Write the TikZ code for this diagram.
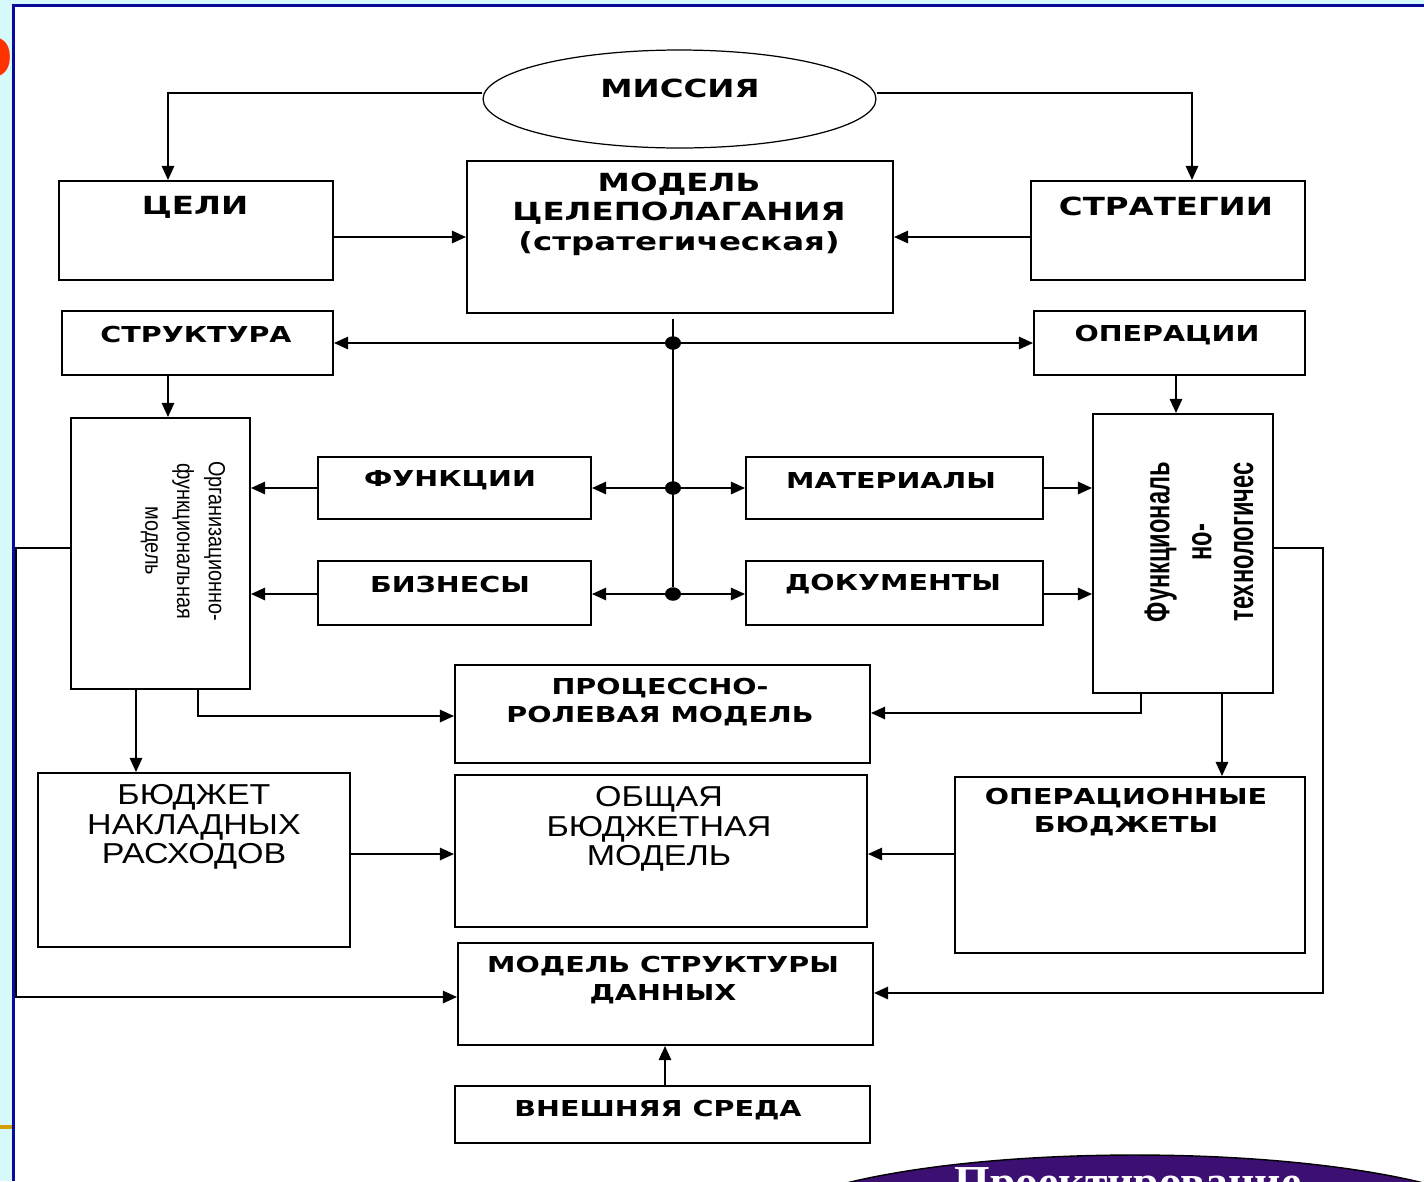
\documentclass[tikz,border=0pt]{standalone}
\usepackage{fontspec}
\usetikzlibrary{arrows.meta,shapes.geometric}
\newfontfamily\fBold{DejaVu Sans}[FakeStretch=1.3]
\newfontfamily\fReg{Liberation Sans}[FakeStretch=1.18]
\newfontfamily\fVa{Liberation Sans}[FakeStretch=0.85]
\newfontfamily\fVb{Liberation Sans}[FakeStretch=0.66]
\newfontfamily\fSerif{Liberation Serif}
\definecolor{cyanbg}{HTML}{D6F9FB}
\definecolor{bordblue}{HTML}{0A0A9C}
\definecolor{orangeln}{HTML}{D4A000}
\definecolor{redglyph}{HTML}{FF3300}
\definecolor{purpl}{HTML}{3C0F72}
\newcommand\mkbox[5]{\node[boxst, minimum width={(#4-#2)*0.02cm}, minimum height={(#5-#3)*0.02cm}] (#1) at ({(#2+#4)/2},{(#3+#5)/2}) {};}
\tikzset{
  boxst/.style={draw, line width=1.1pt, inner sep=0pt},
  lnk/.style={line width=1.1pt},
  arr/.style={line width=1.1pt, -{Triangle[length=8pt,width=7pt]}},
  arrb/.style={line width=1.1pt, {Triangle[length=8pt,width=7pt]}-{Triangle[length=8pt,width=7pt]}},
  dotst/.style={ellipse, fill, inner sep=0pt, minimum width=0.32cm, minimum height=0.27cm},
  bigt/.style={font=\fBold\bfseries\fontsize{14.2}{16.7}\selectfont, align=center, inner sep=0pt},
  smt/.style={font=\fBold\bfseries\fontsize{12.5}{15.6}\selectfont, align=center, inner sep=0pt},
  regt/.style={font=\fReg\fontsize{16.4}{16.7}\selectfont, align=center, inner sep=0pt},
  vta/.style={font=\fVa\fontsize{13.3}{18.1}\selectfont, align=center, inner sep=0pt, rotate=-90},
  vtb/.style={font=\fVb\bfseries\fontsize{20.4}{23.8}\selectfont, align=center, inner sep=0pt, rotate=90},
}
\begin{document}
\begin{tikzpicture}[x=0.02cm,y=-0.02cm]
\useasboundingbox (0,0) rectangle (1424,1181);
\clip (0,0) rectangle (1424,1181);
% slide background
\fill[white] (0,0) rectangle (1424,1181);
\fill[cyanbg] (0,0) rectangle (13,1181);
\fill[cyanbg] (0,0) rectangle (1424,4);
\begin{scope}
  \clip (0,0) rectangle (12,1181);
  \node[text=redglyph, font=\fSerif\bfseries\fontsize{35}{36}\selectfont, anchor=east, inner sep=0pt] (redo) at (14,57) {О};
\end{scope}
\fill[orangeln] (0,1125) rectangle (12,1129);
\draw[bordblue, line width=1.4pt] (13.5,1181) -- (13.5,5.5) -- (1424,5.5);
% purple title ellipse
\node[ellipse, draw=black, line width=0.8pt, fill=purpl, minimum width=15.2cm, minimum height=3.2cm, inner sep=0pt] (proj) at (1135,1235) {};
\node[text=white, font=\fSerif\bfseries\fontsize{26}{28}\selectfont, anchor=base, inner sep=0pt] (projt) at (1128,1197) {Проектирование};

% mission
\node[ellipse, draw, line width=0.7pt, minimum width=7.86cm, minimum height=1.96cm, inner sep=0pt] (mission) at (679.5,99) {};
\node[bigt] (tmission) at (680,88) {МИССИЯ};

% boxes
\mkbox{celi}{59}{181}{333}{280}
\mkbox{model}{467}{161}{893}{313}
\mkbox{strat}{1031}{181}{1305}{280}
\mkbox{struct}{62}{311}{333}{375}
\mkbox{oper}{1034}{311}{1305}{375}
\mkbox{orgbox}{71}{418}{250}{689}
\mkbox{func}{318}{457}{591}{519}
\mkbox{biz}{318}{561}{591}{625}
\mkbox{mat}{746}{457}{1043}{519}
\mkbox{doc}{746}{561}{1043}{625}
\mkbox{techbox}{1093}{414}{1273}{693}
\mkbox{proc}{455}{665}{870}{763}
\mkbox{budn}{38}{773}{350}{947}
\mkbox{obm}{455}{775}{867}{927}
\mkbox{opb}{955}{777}{1305}{953}
\mkbox{msd}{458}{943}{873}{1045}
\mkbox{ext}{455}{1086}{870}{1143}

% texts
\node[bigt] (tceli) at (195,207) {ЦЕЛИ};
\node[bigt] (tmodel) at (679,214) {МОДЕЛЬ\\ЦЕЛЕПОЛАГАНИЯ\\(стратегическая)};
\node[bigt] (tstrat) at (1166,206) {СТРАТЕГИИ};
\node[smt] (tstruct) at (196,334) {СТРУКТУРА};
\node[smt] (toper) at (1167,335) {ОПЕРАЦИИ};
\node[smt] (tfunc) at (450,480) {ФУНКЦИИ};
\node[smt] (tbiz) at (450,584) {БИЗНЕСЫ};
\node[smt] (tmat) at (891,480) {МАТЕРИАЛЫ};
\node[smt] (tdoc) at (893,584) {ДОКУМЕНТЫ};
\node[smt] (tproc) at (660,702) {ПРОЦЕССНО-\\РОЛЕВАЯ МОДЕЛЬ};
\node[regt] (tbudn) at (194,827) {БЮДЖЕТ\\НАКЛАДНЫХ\\РАСХОДОВ};
\node[regt] (tobm) at (659,829) {ОБЩАЯ\\БЮДЖЕТНАЯ\\МОДЕЛЬ};
\node[smt] (topb) at (1126,812) {ОПЕРАЦИОННЫЕ\\БЮДЖЕТЫ};
\node[smt] (tmsd) at (663,980) {МОДЕЛЬ СТРУКТУРЫ\\ДАННЫХ};
\node[smt] (text) at (658,1110) {ВНЕШНЯЯ СРЕДА};
\node[vta] (torg) at (183,541) {Организационно-\\функциональная\\модель};
\node[vtb] (ttech) at (1199,542) {Функциональ\\но-\\технологичес};

% junction dots
\node[dotst] (d1) at (673,343) {};
\node[dotst] (d2) at (673,488) {};
\node[dotst] (d3) at (673,594) {};
\coordinate (cl) at (16,997);
\coordinate (cr) at (1323,993);

% connectors
\draw[arr] (mission.west |- 0,93) -| (celi.north -| 168,0);
\draw[arr] (mission.east |- 0,93) -| (strat.north -| 1192,0);
\draw[arr] (celi.east |- model.west) -- (model.west);
\draw[arr] (strat.west |- model.east) -- (model.east);
\draw[lnk] ([yshift=-0.1cm]model.south -| d1) -- (d3);
\draw[arrb] (struct.east) -- (oper.west);
\draw[arr] (d2) -- (func.east |- d2);
\draw[arr] (d2) -- (mat.west |- d2);
\draw[arr] (d3) -- (biz.east |- d3);
\draw[arr] (d3) -- (doc.west |- d3);
\draw[arr] (func.west |- d2) -- (orgbox.east |- d2);
\draw[arr] (biz.west |- d3) -- (orgbox.east |- d3);
\draw[arr] (mat.east |- d2) -- (techbox.west |- d2);
\draw[arr] (doc.east |- d3) -- (techbox.west |- d3);
\draw[arr] (struct.south -| 168,0) -- (orgbox.north -| 168,0);
\draw[arr] (oper.south -| 1176,0) -- (techbox.north -| 1176,0);
\draw[arr] (orgbox.south -| 136,0) -- (budn.north -| 136,0);
\draw[arr] (orgbox.south -| 198,0) |- (proc.west |- 0,716);
\draw[arr] (techbox.south -| 1141,0) |- (proc.east |- 0,713);
\draw[arr] (techbox.south -| 1222,0) -- (opb.north -| 1222,0);
\draw[arr] (budn.east |- 0,854) -- (obm.west |- 0,854);
\draw[arr] (opb.west |- 0,854) -- (obm.east |- 0,854);
\draw[arr] (orgbox.west |- 0,548) -| (cl) -- (msd.west |- cl);
\draw[arr] (techbox.east |- 0,548) -| (cr) -- (msd.east |- cr);
\draw[arr] (ext.north -| 665,0) -- (msd.south -| 665,0);
\end{tikzpicture}
\end{document}
